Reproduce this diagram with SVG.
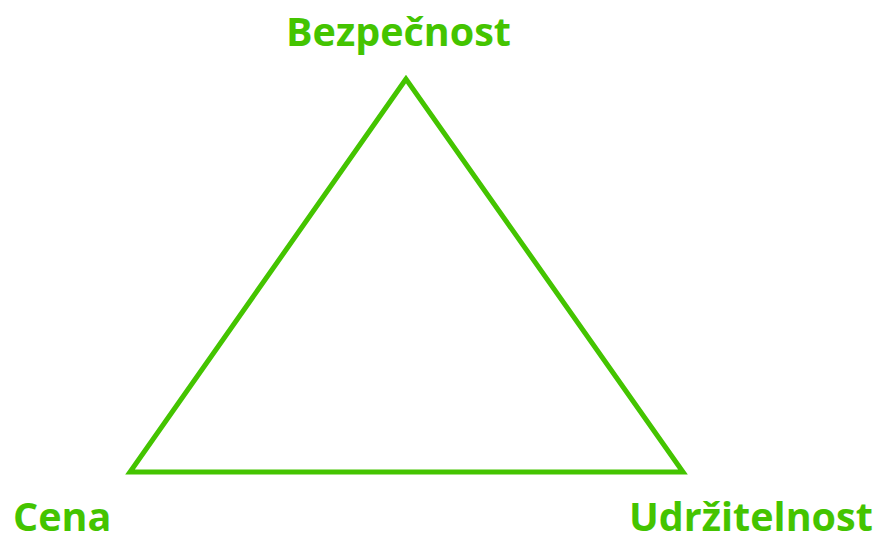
<svg xmlns="http://www.w3.org/2000/svg" width="879" height="543" viewBox="0 0 879 543">
<style>
.lbl{font-family:"Open Sans","Noto Sans","DejaVu Sans",sans-serif;font-weight:bold;fill:#44C400;font-size:39.5px}
.edge{fill:none;stroke:#44C400;stroke-width:5;stroke-linejoin:miter}
</style>
<rect width="879" height="543" fill="#ffffff"/>
<g id="connectors">
<polygon class="edge" points="406,79 130,472 683,472"/>
</g>
<g id="node-bezpecnost"><text class="lbl" x="398.5" y="46" text-anchor="middle">Bezpečnost</text></g>
<g id="node-cena"><text class="lbl" x="13" y="531">Cena</text></g>
<g id="node-udrzitelnost"><text class="lbl" x="629" y="531">Udržitelnost</text></g>
</svg>
